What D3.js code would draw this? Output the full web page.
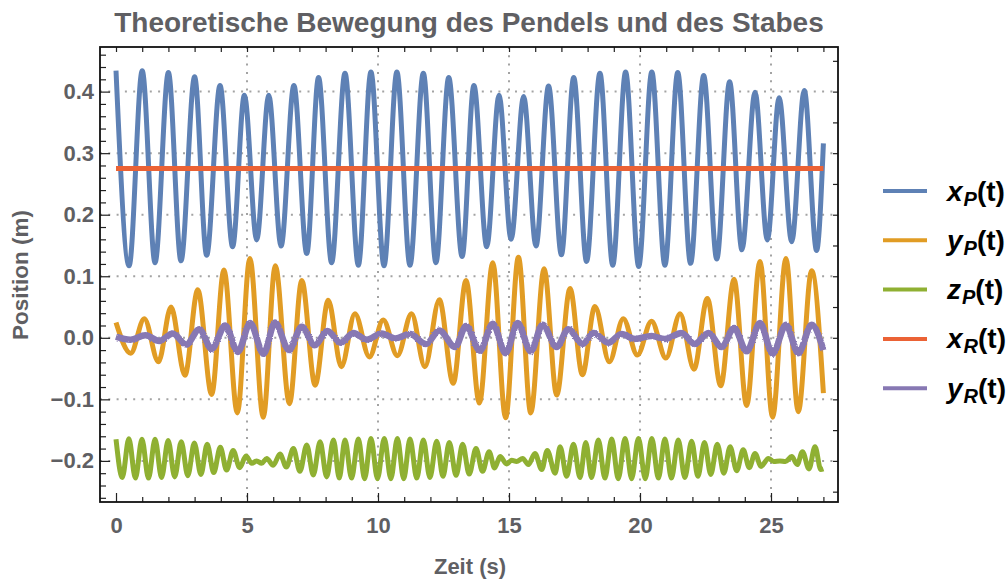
<!DOCTYPE html>
<html><head><meta charset="utf-8">
<script src="https://cdn.jsdelivr.net/npm/d3@7"></script>
<style>body{margin:0;background:#fff}svg{display:block}text{font-family:"Liberation Sans",Arial,sans-serif;font-weight:bold}</style>
</head><body><svg id="c" width="1008" height="581"></svg>
<script>
// ---------- data (extrema of each curve) ----------
const titleText = "Theoretische Bewegung des Pendels und des Stabes";
const xLabel = "Zeit (s)";
const yLabel = "Position (m)";
const xTickValues = [0, 5, 10, 15, 20, 25];
const yTickValues = [-0.2, -0.1, 0.0, 0.1, 0.2, 0.3, 0.4];
const legendVars = ["x", "y", "z", "x", "y"];
const legendSubs = ["P", "P", "P", "R", "R"];
const colors = ["#5E81B5", "#E19C24", "#8FB032", "#EB6235", "#8778B3"];

const xP_t = [0,0.5,1.0,1.49,2.0,2.48,3.0,3.46,3.97,4.45,4.9,5.37,5.83,6.3,6.79,7.28,7.73,8.23,8.74,9.25,9.73,10.23,10.72,11.22,11.73,12.21,12.7,13.21,13.66,14.15,14.62,15.08,15.56,16.03,16.51,17.0,17.47,17.96,18.47,18.96,19.45,19.95,20.45,20.95,21.44,21.93,22.43,22.93,23.42,23.89,24.39,24.86,25.31,25.79,26.27,26.74,27.0];
const xP_v = [0.434,0.117,0.434,0.122,0.431,0.125,0.424,0.134,0.410,0.148,0.394,0.159,0.394,0.149,0.410,0.137,0.423,0.122,0.430,0.118,0.432,0.117,0.432,0.118,0.430,0.122,0.423,0.132,0.410,0.148,0.394,0.160,0.392,0.149,0.409,0.135,0.423,0.124,0.430,0.118,0.432,0.116,0.432,0.118,0.431,0.121,0.426,0.128,0.416,0.143,0.399,0.159,0.390,0.156,0.402,0.142,0.316];

const yP_t = [0,0.56,1.08,1.62,2.10,2.63,3.12,3.65,4.12,4.63,5.11,5.62,6.08,6.62,7.09,7.60,8.10,8.60,9.12,9.67,10.2,10.74,11.28,11.79,12.34,12.87,13.36,13.87,14.38,14.87,15.36,15.83,16.34,16.82,17.33,17.8,18.28,18.83,19.36,19.9,20.44,20.99,21.53,22.06,22.57,23.08,23.59,24.07,24.58,25.06,25.57,26.04,26.55,27.0];
const yP_v = [0.025,-0.025,0.031,-0.039,0.050,-0.061,0.078,-0.092,0.110,-0.122,0.129,-0.129,0.117,-0.107,0.093,-0.077,0.061,-0.047,0.039,-0.031,0.029,-0.029,0.039,-0.047,0.062,-0.074,0.093,-0.106,0.122,-0.130,0.131,-0.122,0.112,-0.093,0.080,-0.060,0.051,-0.039,0.031,-0.028,0.027,-0.033,0.039,-0.051,0.064,-0.078,0.095,-0.110,0.124,-0.129,0.129,-0.120,0.109,-0.090];

const zP_t = [0,0.24,0.49,0.74,0.99,1.24,1.49,1.74,1.99,2.24,2.49,2.74,2.99,3.24,3.48,3.73,3.98,4.22,4.47,4.72,4.96,5.18,5.37,5.56,5.75,6.0,6.26,6.5,6.77,7.02,7.28,7.53,7.79,8.04,8.3,8.52,8.74,8.99,9.25,9.49,9.73,9.98,10.24,10.49,10.74,10.98,11.22,11.48,11.73,11.98,12.24,12.48,12.72,12.98,13.23,13.48,13.74,13.99,14.24,14.45,14.66,14.91,15.10,15.29,15.52,15.74,15.99,16.25,16.46,16.76,16.95,17.2,17.46,17.71,17.93,18.15,18.41,18.66,18.92,19.17,19.43,19.68,19.94,20.2,20.45,20.7,20.95,21.2,21.46,21.71,21.97,22.21,22.46,22.7,22.95,23.2,23.44,23.69,23.94,24.17,24.39,24.62,24.9,25.1,25.34,25.55,25.79,26.0,26.2,26.45,26.68,26.9,27.0];
const zP_v = [-0.165,-0.227,-0.164,-0.228,-0.165,-0.228,-0.165,-0.227,-0.167,-0.226,-0.169,-0.224,-0.171,-0.222,-0.173,-0.219,-0.178,-0.215,-0.183,-0.211,-0.192,-0.204,-0.200,-0.204,-0.196,-0.207,-0.189,-0.210,-0.180,-0.217,-0.174,-0.223,-0.169,-0.226,-0.166,-0.228,-0.166,-0.228,-0.1645,-0.229,-0.1635,-0.229,-0.1635,-0.229,-0.1635,-0.229,-0.1645,-0.228,-0.166,-0.227,-0.168,-0.225,-0.170,-0.2235,-0.173,-0.2215,-0.180,-0.217,-0.185,-0.2115,-0.193,-0.205,-0.199,-0.201,-0.196,-0.206,-0.188,-0.214,-0.183,-0.220,-0.177,-0.225,-0.173,-0.227,-0.170,-0.227,-0.166,-0.228,-0.1645,-0.229,-0.1635,-0.229,-0.1635,-0.229,-0.1635,-0.228,-0.1645,-0.228,-0.166,-0.227,-0.168,-0.225,-0.170,-0.222,-0.173,-0.220,-0.177,-0.216,-0.182,-0.211,-0.188,-0.209,-0.196,-0.201,-0.200,-0.201,-0.193,-0.206,-0.185,-0.213,-0.177,-0.214,-0.213];

const xR_t = [0,4.5,9,13.5,18,22.5,27.0];
const xR_v = [0.275,0.275,0.275,0.275,0.275,0.275,0.275];

const yR_t = [0,0.55,1.12,1.65,2.17,2.68,3.18,3.65,4.17,4.65,5.12,5.63,6.07,6.6,7.09,7.58,8.07,8.57,9.06,9.57,10.14,10.65,11.22,11.83,12.34,12.94,13.36,13.89,14.38,14.87,15.33,15.83,16.28,16.82,17.26,17.81,18.22,18.79,19.3,19.81,20.44,20.95,21.59,22.09,22.61,23.12,23.59,24.07,24.58,25.06,25.57,26.04,26.55,27.0];
const yR_v = [0.002,-0.003,0.004,-0.005,0.007,-0.011,0.014,-0.018,0.020,-0.023,0.024,-0.026,0.025,-0.020,0.018,-0.012,0.011,-0.008,0.008,-0.003,0.007,-0.001,0.006,-0.010,0.012,-0.015,0.019,-0.021,0.023,-0.025,0.024,-0.022,0.021,-0.015,0.014,-0.010,0.008,-0.008,0.006,-0.002,0.003,-0.002,0.008,-0.010,0.008,-0.015,0.016,-0.022,0.024,-0.026,0.021,-0.025,0.021,-0.020];

// ---------- drawing ----------
const svg = d3.select("#c");
const L = 100, R = 838, T = 47, B = 502;
const x = d3.scaleLinear().domain([-0.611, 27.557]).range([L, R]);
const y = d3.scaleLinear().domain([-0.2668, 0.4725]).range([B, T]);
const labelColor = "#5f5f63";

// fuzzy-edge filter for the noisy-looking y_R curve
const defs = svg.append("defs");
const f = defs.append("filter").attr("id", "fuzz").attr("x", "-5%").attr("y", "-50%").attr("width", "110%").attr("height", "200%");
f.append("feTurbulence").attr("type", "fractalNoise").attr("baseFrequency", "0.8").attr("numOctaves", 1).attr("seed", 3).attr("result", "n");
f.append("feDisplacementMap").attr("in", "SourceGraphic").attr("in2", "n").attr("scale", 2.6).attr("xChannelSelector", "R").attr("yChannelSelector", "G");

// grid
const grid = svg.append("g").attr("stroke", "#a3a3a3").attr("stroke-width", 2).attr("stroke-dasharray", "2,6.3");
grid.selectAll(".gx").data(xTickValues.filter(d => d !== 0)).join("line")
  .attr("x1", d => x(d)).attr("x2", d => x(d)).attr("y1", T).attr("y2", B);
grid.selectAll(".gy").data(yTickValues).join("line")
  .attr("x1", L).attr("x2", R).attr("y1", d => y(d)).attr("y2", d => y(d));

// curves
const series = [[xP_t, xP_v], [yP_t, yP_v], [zP_t, zP_v], [xR_t, xR_v], [yR_t, yR_v]];
const line = d3.line().x(d => x(d[0])).y(d => y(d[1])).curve(d3.curveMonotoneX);
const plot = svg.append("g");
series.forEach((s, i) => {
  const pts = s[0].map((t, k) => [t, s[1][k]]);
  const p = plot.append("path").attr("d", line(pts)).attr("fill", "none")
    .attr("stroke", colors[i]).attr("stroke-width", i === 4 ? 6.5 : 5)
    .attr("stroke-linejoin", "round").attr("stroke-linecap", "butt");
  if (i === 4) p.attr("filter", "url(#fuzz)");
});

// axes
function styleAxis(g) {
  g.select(".domain").remove();
  g.selectAll(".tick line").attr("stroke", "#222").attr("stroke-width", 1.2);
  g.selectAll(".tick text").attr("fill", labelColor).style("font-size", "22px");
}
const fmtY = d => d3.format(".1f")(d).replace("-", "\u2212");
svg.append("g").attr("transform", `translate(0,${B})`)
  .call(d3.axisBottom(x).tickValues(xTickValues).tickSize(-9).tickPadding(15).tickFormat(d3.format("d"))).call(styleAxis);
svg.append("g").attr("transform", `translate(0,${B})`)
  .call(d3.axisBottom(x).tickValues(d3.range(0, 28).filter(d => d % 5 !== 0)).tickSize(-5).tickFormat("")).call(styleAxis);
svg.append("g").attr("transform", `translate(${L},0)`)
  .call(d3.axisLeft(y).tickValues(yTickValues).tickSize(-10).tickPadding(6).tickFormat(fmtY)).call(styleAxis);
svg.append("g").attr("transform", `translate(${L},0)`)
  .call(d3.axisLeft(y).tickValues(d3.range(-13, 24).map(d => d * 0.02).filter(d => Math.abs(Math.round(d * 10) - d * 10) > 1e-6)).tickSize(-6).tickFormat("")).call(styleAxis);
svg.append("g").attr("transform", `translate(0,${T})`)
  .call(d3.axisTop(x).tickValues(d3.range(0, 28)).tickSize(-5).tickFormat("")).call(styleAxis);
svg.append("g").attr("transform", `translate(${R},0)`)
  .call(d3.axisRight(y).tickValues(d3.range(-5, 10).map(d => d * 0.05)).tickSize(-5).tickFormat("")).call(styleAxis);

// frame
svg.append("rect").attr("x", L).attr("y", T).attr("width", R - L).attr("height", B - T)
  .attr("fill", "none").attr("stroke", "#111").attr("stroke-width", 1.8);

// title and axis labels
svg.append("text").attr("x", 469).attr("y", 31.5).attr("text-anchor", "middle")
  .attr("fill", labelColor).style("font-size", "28px").text(titleText);
svg.append("text").attr("x", 470).attr("y", 574).attr("text-anchor", "middle")
  .attr("fill", labelColor).style("font-size", "22px").text(xLabel);
svg.append("text").attr("transform", "translate(28,275) rotate(-90)").attr("text-anchor", "middle")
  .attr("fill", labelColor).style("font-size", "22.5px").text(yLabel);

// legend
const lg = svg.append("g");
legendVars.forEach((v, i) => {
  const yy = 191 + i * 49.3;
  lg.append("line").attr("x1", 883).attr("x2", 927).attr("y1", yy).attr("y2", yy)
    .attr("stroke", colors[i]).attr("stroke-width", 4);
  const t = lg.append("text").attr("x", 947).attr("y", yy + 9.5).attr("fill", "#000").style("font-size", "28px");
  t.append("tspan").style("font-style", "italic").text(v);
  t.append("tspan").style("font-style", "italic").style("font-size", "20px").attr("dy", 5).attr("dx", 1).text(legendSubs[i]);
  t.append("tspan").attr("dy", -5).text("(t)");
});
</script>
</body></html>
